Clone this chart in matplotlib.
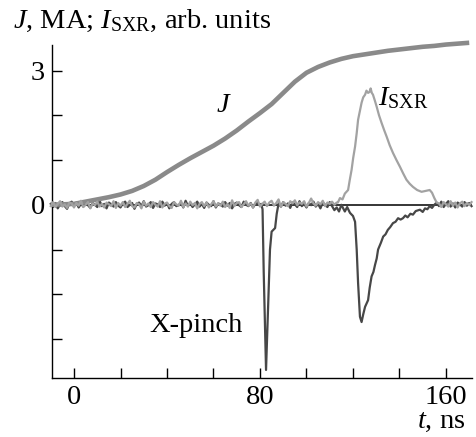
import numpy as np
import matplotlib
matplotlib.use("Agg")
import matplotlib.pyplot as plt

plt.rcParams['font.family'] = ['Liberation Serif', 'DejaVu Serif']
plt.rcParams['mathtext.fontset'] = 'custom'
plt.rcParams['mathtext.rm'] = 'Liberation Serif'
plt.rcParams['mathtext.it'] = 'Liberation Serif:italic'

# ---- data ----
# current J, MA
J_t = [-10, -5, 0, 5, 10, 15, 20, 25, 30, 35, 40, 45, 50, 55, 60, 65, 70, 75, 80,
       85, 90, 95, 100, 105, 110, 115, 120, 125, 130, 135, 140, 145, 150, 155, 160, 165, 170]
J_v = [0.0, 0.01, 0.02, 0.07, 0.12, 0.17, 0.23, 0.31, 0.42, 0.56, 0.73, 0.89, 1.04, 1.18,
       1.32, 1.48, 1.66, 1.86, 2.05, 2.25, 2.5, 2.75, 2.95, 3.08, 3.18, 3.26, 3.32, 3.36,
       3.40, 3.44, 3.47, 3.50, 3.53, 3.55, 3.58, 3.60, 3.62]

# X-pinch signal: baseline segments (1-ns samples) and pulse segments
xp_base1_span = (-10, 80)
xp_base1 = [0.02, -0.05, 0.04, -0.08, 0.01, 0.06, -0.03, -0.09, 0.03, 0.07, -0.02, 0.05,
            -0.06, 0.02, -0.04, 0.08, -0.01, -0.07, 0.04, 0.00, -0.05, 0.09, -0.03, 0.02,
            -0.08, 0.05, 0.01, -0.04, 0.06, -0.02, -0.06, 0.03, 0.07, -0.05, 0.00, 0.04,
            -0.09, 0.02, 0.05, -0.03, 0.08, -0.04, -0.01, 0.06, -0.07, 0.03, 0.01, -0.05,
            0.07, -0.02, 0.04, -0.08, 0.02, 0.06, -0.03, -0.01, 0.05, -0.06, 0.09, -0.02,
            0.03, -0.05, 0.01, 0.07, -0.04, 0.02, -0.07, 0.05, 0.00, -0.03, 0.08, -0.06,
            0.03, 0.01, -0.04, 0.06, -0.02, 0.04, -0.08, 0.02, 0.05, -0.01, -0.05, 0.07,
            0.00, -0.03, 0.04, -0.06, 0.02, 0.05, -0.02]
xp_pulse1_t = [80.5, 81.1, 81.6, 82.6, 83.5, 84.3, 85.0, 86.5, 87.2, 88.0]
xp_pulse1_v = [0.02, -0.10, -1.5, -3.69, -2.3, -1.0, -0.6, -0.52, -0.2, 0.03]
xp_base2_span = (89, 115)
xp_base2 = [-0.04, 0.06, -0.02, 0.03, -0.07, 0.05, 0.01, -0.05, 0.08, -0.03, 0.02, -0.06,
            0.04, -0.01, 0.07, -0.04, 0.02, -0.08, 0.05, 0.00, -0.05, 0.06, -0.03, -0.12,
            -0.06, -0.15, 0.0]
xp_pulse2_t = [116.5, 117.5, 118.7, 120.0, 120.9, 121.6, 122.2, 123.0, 123.7, 124.4, 125.2,
               126.5, 127.2, 128.0, 128.8, 129.5, 130.2, 130.8, 132.0, 133.0, 134.0, 135.0,
               136.0, 137.2, 138.3, 139.4, 140.5, 141.5, 142.5, 143.5, 144.7, 145.8, 147.0,
               148.8, 150.0, 151.0, 152.0, 153.0, 154.0, 155.0]
xp_pulse2_v = [-0.15, -0.05, -0.18, -0.25, -0.38, -1.0, -1.75, -2.5, -2.62, -2.45, -2.28,
               -2.13, -1.85, -1.6, -1.5, -1.34, -1.2, -1.0, -0.85, -0.71, -0.66, -0.56,
               -0.5, -0.41, -0.38, -0.3, -0.33, -0.3, -0.24, -0.28, -0.2, -0.22, -0.14,
               -0.11, -0.16, -0.08, -0.1, -0.03, -0.07, 0.0]
xp_base3_span = (156, 171)
xp_base3 = [0.05, -0.03, 0.07, -0.05, 0.02, 0.08, -0.04, 0.03, -0.06, 0.05, 0.01, -0.04,
            0.06, -0.02, 0.04, -0.03]

# soft X-ray signal I_SXR
sxr_base1_span = (-10, 113)
sxr_base1 = [-0.03, 0.06, -0.05, 0.02, 0.08, -0.04, 0.01, -0.07, 0.05, 0.03, -0.06, 0.04,
             -0.02, 0.09, -0.05, 0.00, 0.06, -0.08, 0.03, -0.01, 0.07, -0.04, 0.02, -0.06,
             0.05, 0.01, -0.03, 0.08, -0.07, 0.04, -0.02, 0.06, -0.05, 0.02, 0.09, -0.03,
             -0.06, 0.04, 0.01, -0.08, 0.07, -0.02, 0.03, -0.05, 0.06, 0.00, -0.04, 0.08,
             -0.06, 0.02, 0.05, -0.03, -0.07, 0.06, 0.01, -0.02, 0.09, -0.05, 0.03, -0.04,
             0.07, -0.01, 0.04, -0.08, 0.02, 0.06, -0.03, 0.05, -0.06, 0.01, 0.08, -0.04,
             0.03, -0.02, 0.07, -0.05, 0.02, -0.07, 0.10, -0.03, 0.04, 0.06, -0.05, 0.01,
             0.08, -0.02, 0.03, -0.06, 0.05, 0.11, -0.04, 0.02, 0.07, -0.03, 0.05, 0.09,
             -0.02, 0.04, 0.12, -0.05, 0.06, 0.02, -0.03, 0.08, 0.03, 0.10, -0.01, 0.05,
             0.02, 0.08, -0.04, 0.04, 0.14, 0.03, -0.02, 0.06, 0.01, 0.09, -0.03, 0.05,
             0.02, 0.07, 0.0, 0.05]
sxr_pulse_t = [113.5, 114.4, 115.5, 116.5, 117.9, 118.6, 119.4, 120.1, 120.9, 121.6, 122.2,
               123.0, 123.7, 124.4, 125.2, 125.8, 126.5, 127.1, 127.6, 128.1, 128.6, 129.4,
               130.2, 131.2, 132.3, 133.4, 134.5, 135.8, 137.2, 138.7, 140.2, 141.6, 143.0,
               144.4, 145.8, 147.6, 149.5, 151.2, 153.0, 154.0, 155.0, 156.0]
sxr_pulse_v = [0.05, 0.15, 0.12, 0.25, 0.33, 0.55, 0.78, 1.05, 1.3, 1.6, 1.9, 2.1, 2.28,
               2.4, 2.46, 2.55, 2.5, 2.52, 2.6, 2.5, 2.46, 2.33, 2.19, 2.0, 1.83, 1.67,
               1.52, 1.33, 1.16, 1.0, 0.85, 0.7, 0.56, 0.47, 0.4, 0.33, 0.29, 0.31, 0.33,
               0.27, 0.15, 0.05]
sxr_base2_span = (157, 171)
sxr_base2 = [0.03, -0.05, 0.06, 0.01, -0.04, 0.08, -0.02, 0.05, -0.06, 0.03, 0.07, -0.03,
             0.04, -0.01, 0.06]

x_ticks = [0, 20, 40, 60, 80, 100, 120, 140, 160]
x_ticklabels = ['0', '', '', '', '80', '', '', '', '160']
y_ticks = [-3, -2, -1, 0, 1, 2, 3]
y_ticklabels = ['', '', '', '0', '', '', '3']


def seg(span, vals):
    return np.linspace(span[0], span[1], len(vals)), np.asarray(vals)


# assemble X-pinch signal
t1, v1 = seg(xp_base1_span, xp_base1)
t2, v2 = seg(xp_base2_span, xp_base2)
t3, v3 = seg(xp_base3_span, xp_base3)
xp_t = np.concatenate([t1, xp_pulse1_t, t2, xp_pulse2_t, t3])
xp_v = np.concatenate([v1, xp_pulse1_v, v2, xp_pulse2_v, v3])

s1t, s1v = seg(sxr_base1_span, sxr_base1)
s2t, s2v = seg(sxr_base2_span, sxr_base2)
sxr_t = np.concatenate([s1t, sxr_pulse_t, s2t])
sxr_v = np.concatenate([s1v, sxr_pulse_v, s2v])

# ---- figure ----
W, H = 477, 437
fig = plt.figure(figsize=(W / 100, H / 100), dpi=100)
ax = fig.add_axes([51.7 / W, 1 - 378 / H, (472 - 51.7) / W, (378 - 45) / H])

ax.axhline(0, color='black', lw=1.1, zorder=1)
ax.plot(xp_t, xp_v, color='#474747', lw=1.6, zorder=2, clip_on=False)
ax.plot(J_t, J_v, color='#8a8a8a', lw=3.3, zorder=3, clip_on=False,
        solid_capstyle='butt')
ax.plot(sxr_t, sxr_v, color='#a2a2a2', lw=1.6, zorder=4, clip_on=False)

ax.set_xlim(-9.6, 171.2)
ax.set_ylim(-3.87, 3.57)

for s in ['top', 'right']:
    ax.spines[s].set_visible(False)
for s in ['left', 'bottom']:
    ax.spines[s].set_linewidth(1.0)

ax.set_xticks(x_ticks)
ax.set_xticklabels(x_ticklabels)
ax.set_yticks(y_ticks)
ax.set_yticklabels(y_ticklabels)
ax.tick_params(direction='in', length=7, width=1.0, labelsize=20.5)
ax.tick_params(axis='x', pad=5)
ax.tick_params(axis='y', pad=5)

fs = 20.5
ax.text(64.5, 2.21, r'$J$', fontsize=fs, ha='center', va='center')
ax.text(141.5, 2.39, r'$I_{\rm SXR}$', fontsize=fs, ha='center', va='center')
ax.text(52.5, -2.7, 'X-pinch', fontsize=fs, ha='center', va='center')

fig.text(13 / W, 1 - 28 / H, r'$J$, MA; $I_{\rm SXR}$, arb. units', fontsize=fs,
         ha='left', va='baseline')
fig.text(465 / W, 1 - 428 / H, r'$t$, ns', fontsize=fs, ha='right', va='baseline')

fig.savefig('out.png', dpi=100)
